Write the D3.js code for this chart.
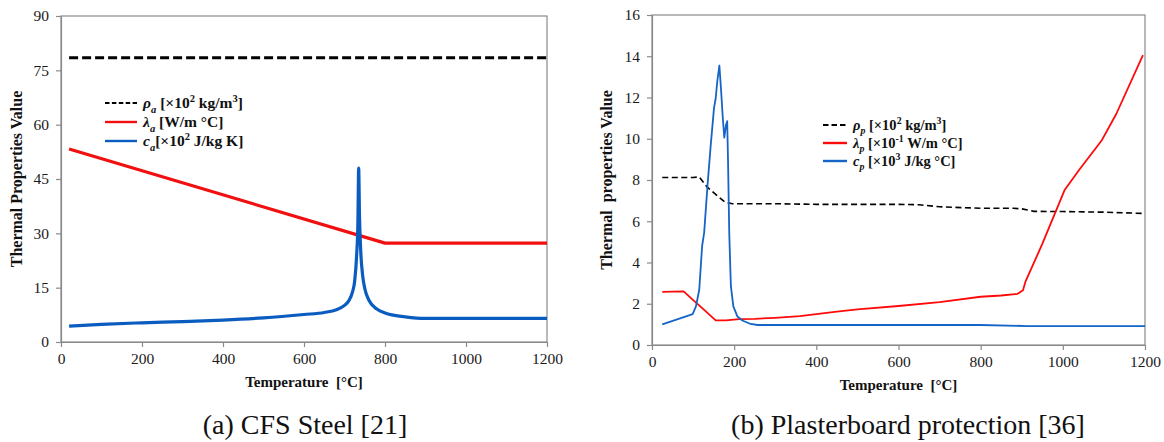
<!DOCTYPE html>
<html>
<head>
<meta charset="utf-8">
<script src="https://cdn.jsdelivr.net/npm/d3@7"></script>
<style>
  body { margin: 0; background: #fff; }
  svg text { font-family: "Liberation Serif", "Times New Roman", Times, "DejaVu Serif", serif; }
</style>
</head>
<body>
<svg id="fig" width="1164" height="442"></svg>
<script>
// ---- (a) CFS steel ----
var steelDensityTemp = [20, 1200];
var steelDensity = [78.5, 78.5];
var steelCondTemp = [20, 800, 1200];
var steelCond = [53.3, 27.3, 27.3];
var steelHeatTemp = [20, 100, 200, 300, 400, 500, 600, 650, 680, 700, 710, 720, 725, 730, 733, 735, 737, 740, 745, 750, 760, 780, 800, 850, 900, 1000, 1100, 1200];
var steelHeat = [4.4, 4.88, 5.3, 5.65, 6.06, 6.67, 7.6, 8.15, 8.9, 10.1, 11.3, 13.9, 16.7, 24.0, 32.5, 48.0, 35.0, 25.3, 18.2, 14.8, 11.6, 9.1, 8.0, 6.95, 6.5, 6.5, 6.5, 6.5];

// ---- (b) plasterboard ----
var boardDensityTemp = [25, 100, 115, 135, 164, 178, 196, 300, 400, 600, 650, 700, 800, 880, 900, 930, 1000, 1100, 1195];
var boardDensity = [8.12, 8.12, 8.15, 7.64, 7.15, 6.92, 6.85, 6.85, 6.82, 6.82, 6.8, 6.7, 6.63, 6.63, 6.6, 6.48, 6.47, 6.44, 6.38];
var boardCondTemp = [25, 77, 99, 131, 155, 180, 212, 250, 300, 360, 400, 450, 500, 600, 700, 800, 850, 890, 903, 909, 950, 1004, 1040, 1094, 1130, 1195];
var boardCond = [2.58, 2.6, 2.2, 1.63, 1.19, 1.19, 1.25, 1.27, 1.32, 1.4, 1.5, 1.62, 1.73, 1.89, 2.08, 2.34, 2.4, 2.48, 2.65, 3.07, 4.9, 7.5, 8.5, 9.9, 11.2, 14.05];
var boardHeatTemp = [25, 99, 107, 115, 122, 127, 135, 143, 151, 155, 159, 164, 168, 172, 176, 180, 183, 185, 188, 192, 198, 208, 220, 240, 257, 400, 600, 800, 914, 1200];
var boardHeat = [1.0, 1.5, 1.87, 2.68, 4.8, 5.45, 7.7, 9.7, 11.5, 11.95, 12.8, 13.55, 12.4, 11.1, 10.05, 10.65, 10.85, 9.0, 5.45, 2.85, 1.87, 1.38, 1.19, 1.02, 0.97, 0.97, 0.97, 0.97, 0.92, 0.92];

var xTicks = [0, 200, 400, 600, 800, 1000, 1200];
var steelYTicks = [0, 15, 30, 45, 60, 75, 90];
var boardYTicks = [0, 2, 4, 6, 8, 10, 12, 14, 16];

var serif = "'Liberation Serif', 'Times New Roman', Times, 'DejaVu Serif', serif";
var svg = d3.select("#fig");

function zip(xs, ys) { return xs.map(function(x, i) { return [x, ys[i]]; }); }

// rich text with sub/superscripts
function richText(g, x, y, parts, size) {
  var t = g.append("text").attr("x", x).attr("y", y).attr("font-family", serif)
    .attr("font-size", size).attr("font-weight", "bold").attr("fill", "#111");
  var shift = 0;
  parts.forEach(function(p) {
    var target = p.sub ? size * 0.3 : (p.sup ? -size * 0.38 : 0);
    t.append("tspan")
      .attr("dy", target - shift)
      .attr("font-size", (p.sub || p.sup) ? size * 0.68 : size)
      .attr("font-style", p.it ? "italic" : null)
      .text(p.t);
    shift = target;
  });
}

function panel(opt) {
  var x = d3.scaleLinear().domain([0, 1200]).range([opt.left, opt.right]);
  var y = d3.scaleLinear().domain([0, opt.ymax]).range([opt.bottom, opt.top]);
  var g = svg.append("g");

  // frame
  g.append("rect").attr("x", opt.left).attr("y", opt.top)
    .attr("width", opt.right - opt.left).attr("height", opt.bottom - opt.top)
    .attr("fill", "none").attr("stroke", "#8a8a8a").attr("stroke-width", 1.2);

  var ax = g.append("g").attr("transform", "translate(0," + opt.bottom + ")")
    .call(d3.axisBottom(x).tickValues(xTicks).tickFormat(d3.format("d"))
      .tickSize(5).tickSizeOuter(0).tickPadding(6));
  var ay = g.append("g").attr("transform", "translate(" + opt.left + ",0)")
    .call(d3.axisLeft(y).tickValues(opt.yTicks).tickFormat(d3.format("d"))
      .tickSize(5).tickSizeOuter(0).tickPadding(7));
  [ax, ay].forEach(function(a) {
    a.attr("font-family", serif);
    a.select(".domain").attr("stroke", "#8a8a8a").attr("stroke-width", 1.2);
    a.selectAll(".tick line").attr("stroke", "#8a8a8a").attr("stroke-width", 1.2);
    a.selectAll(".tick text").attr("font-size", 15.5).attr("fill", "#1a1a1a");
  });

  g.append("text").attr("x", (opt.left + opt.right) / 2).attr("y", opt.bottom + 45)
    .attr("text-anchor", "middle").attr("font-family", serif).attr("font-size", 15)
    .attr("font-weight", "bold").attr("fill", "#111").attr("xml:space", "preserve")
    .text("Temperature  [°C]");
  g.append("text")
    .attr("transform", "translate(" + opt.ylabX + "," + (opt.top + opt.bottom) / 2 + ") rotate(-90)")
    .attr("text-anchor", "middle").attr("font-family", serif).attr("font-size", 16)
    .attr("font-weight", "bold").attr("fill", "#111").attr("xml:space", "preserve")
    .text(opt.ylab);

  opt.series.forEach(function(s) {
    var line = d3.line().x(function(d) { return x(d[0]); }).y(function(d) { return y(d[1]); })
      .curve(s.smooth ? d3.curveMonotoneX : d3.curveLinear);
    g.append("path").datum(zip(s.t, s.v))
      .attr("d", line).attr("fill", "none")
      .attr("stroke", s.color).attr("stroke-width", s.width)
      .attr("stroke-dasharray", s.dash || null)
      .attr("stroke-linejoin", "round");
  });

  // legend
  opt.series.forEach(function(s, i) {
    var ly = opt.legY + i * opt.legStep;
    g.append("line").attr("x1", opt.legX).attr("x2", opt.legX + opt.legLen)
      .attr("y1", ly).attr("y2", ly)
      .attr("stroke", s.color).attr("stroke-width", s.legWidth || s.width)
      .attr("stroke-dasharray", s.legDash || null);
    richText(g, opt.legX + opt.legLen + 6, ly + 5, s.label, opt.legSize);
  });

  g.append("text").attr("x", opt.capX).attr("y", 434).attr("text-anchor", "middle")
    .attr("font-family", serif).attr("font-size", 28).attr("fill", "#111").text(opt.caption);
}

panel({
  left: 61, right: 547, top: 16, bottom: 342, ymax: 90, yTicks: steelYTicks,
  ylab: "Thermal Properties Value", ylabX: 22,
  legX: 105, legY: 103, legStep: 19, legLen: 32, legSize: 15.5,
  capX: 305, caption: "(a) CFS Steel [21]",
  series: [
    { t: steelDensityTemp, v: steelDensity, color: "#000", width: 3, dash: "9,4", legWidth: 2.2, legDash: "4.5,2.4",
      label: [{t: "ρ", it: 1}, {t: "a", it: 1, sub: 1}, {t: " [×10"}, {t: "2", sup: 1}, {t: " kg/m"}, {t: "3", sup: 1}, {t: "]"}] },
    { t: steelCondTemp, v: steelCond, color: "#f01010", width: 3.2, legWidth: 2.4,
      label: [{t: "λ", it: 1}, {t: "a", it: 1, sub: 1}, {t: " [W/m °C]"}] },
    { t: steelHeatTemp, v: steelHeat, color: "#0a5cc0", width: 3.2, legWidth: 2.4, smooth: true,
      label: [{t: "c", it: 1}, {t: "a", it: 1, sub: 1}, {t: "[×10"}, {t: "2", sup: 1}, {t: " J/kg K]"}] }
  ]
});

panel({
  left: 652, right: 1145, top: 15, bottom: 345, ymax: 16, yTicks: boardYTicks,
  ylab: "Thermal  properties Value", ylabX: 612,
  legX: 823, legY: 125, legStep: 18, legLen: 24, legSize: 14.5,
  capX: 908, caption: "(b) Plasterboard protection [36]",
  series: [
    { t: boardDensityTemp, v: boardDensity, color: "#000", width: 1.6, dash: "6,3.5", legWidth: 2.2, legDash: "5.5,3",
      label: [{t: "ρ", it: 1}, {t: "p", it: 1, sub: 1}, {t: " [×10"}, {t: "2", sup: 1}, {t: " kg/m"}, {t: "3", sup: 1}, {t: "]"}] },
    { t: boardCondTemp, v: boardCond, color: "#ff0a0a", width: 1.8, legWidth: 2.4,
      label: [{t: "λ", it: 1}, {t: "p", it: 1, sub: 1}, {t: " [×10"}, {t: "-1", sup: 1}, {t: " W/m °C]"}] },
    { t: boardHeatTemp, v: boardHeat, color: "#1565c8", width: 1.8, legWidth: 2.4,
      label: [{t: "c", it: 1}, {t: "p", it: 1, sub: 1}, {t: " [×10"}, {t: "3", sup: 1}, {t: " J/kg °C]"}] }
  ]
});
</script>
</body>
</html>
